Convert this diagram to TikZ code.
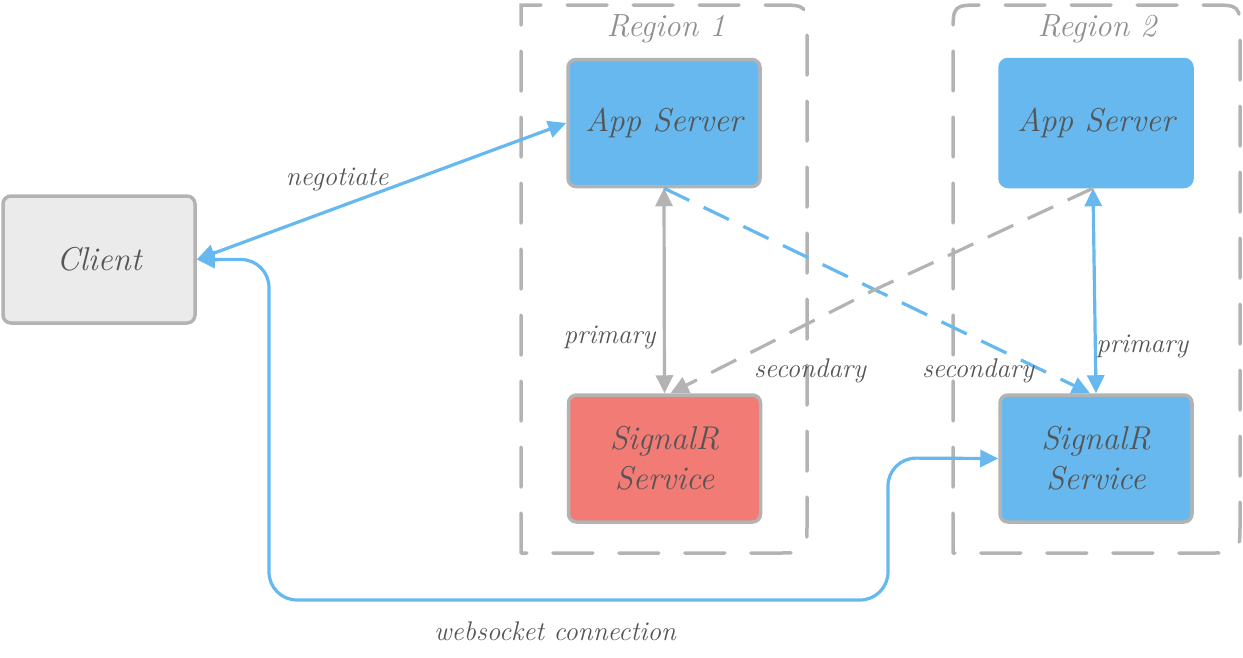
\documentclass[tikz,border=0pt]{standalone}
\usetikzlibrary{arrows.meta}
\definecolor{sblue}{RGB}{102,184,238}
\definecolor{sred}{RGB}{242,123,117}
\definecolor{sgray}{RGB}{179,179,179}
\definecolor{cfill}{RGB}{235,235,235}
\definecolor{tgray}{RGB}{85,85,85}
\begin{document}
\begin{tikzpicture}[x=1pt,y=-1pt,
  >={Triangle[length=18pt,width=17pt]},
  box/.style={draw=sgray,line width=3.5pt,rounded corners=8pt,minimum width=192pt,minimum height=127pt,align=center,text=tgray,font=\fontsize{33}{40}\selectfont\itshape},
  region/.style={draw=sgray,line width=3.5pt,dash pattern=on 40pt off 26pt,line cap=round},
  rlabel/.style={text=sgray!80!black,font=\fontsize{32}{32}\selectfont\itshape},
  lbl/.style={text=tgray,font=\fontsize{27}{27}\selectfont\itshape},
  bline/.style={draw=sblue,line width=3.2pt},
  gline/.style={draw=sgray,line width=3.2pt},
  dsh/.style={dash pattern=on 28pt off 16pt}]
\useasboundingbox (0,0) rectangle (1243,657);
% regions
\draw[region] (521,553) -- (521,5) -- (777,5) .. controls (807,5) .. (807,35) -- (807,523) .. controls (807,553) .. (777,553) -- cycle;
\draw[region] (953,553) -- (953,35) .. controls (953,5) .. (983,5) -- (1210,5) .. controls (1240,5) .. (1240,35) -- (1240,523) .. controls (1240,553) .. (1210,553) -- cycle;
\node[rlabel] (r1) at (666,29) {Region 1};
\node[rlabel] (r2) at (1097,29) {Region 2};
% nodes
\node[box,fill=cfill] (client) at (99,259.5) {Client};
\node[box,fill=sblue] (app1) at (664,123) {App Server};
\node[box,fill=sblue,draw=sblue] (app2) at (1096,123) {App Server};
\node[box,fill=sred] (sig1) at (664.5,458.5) {SignalR\\Service};
\node[box,fill=sblue] (sig2) at (1096,458.5) {SignalR\\Service};
% connectors
\draw[bline,<->] (client.east) -- (app1.west) node[pos=0.38,above=12pt,lbl] {negotiate};
\draw[gline,<->] (app1.south) -- (sig1.north) node[pos=0.73,left=4pt,lbl] {primary};
\draw[bline,<->] ([xshift=-3pt]app2.south) -- (sig2.north) node[pos=0.77,right=-4pt,lbl] {primary};
\draw[bline,dsh,->] (app1.south) -- ([xshift=-6pt]sig2.north);
\draw[gline,dsh,->] ([xshift=-3pt]app2.south) -- (872,291) -- ([xshift=6pt]sig1.north);
\node[lbl] (s1) at (810,371) {secondary};
\node[lbl] (s2) at (978,371) {secondary};
\draw[bline,<->,rounded corners=28pt] (sig2.west) -- (888,458) -- (888,600) -- (269,600) -- (269,259.5) -- (client.east);
\node[lbl] (ws) at (555,631) {websocket connection};
\end{tikzpicture}
\end{document}
